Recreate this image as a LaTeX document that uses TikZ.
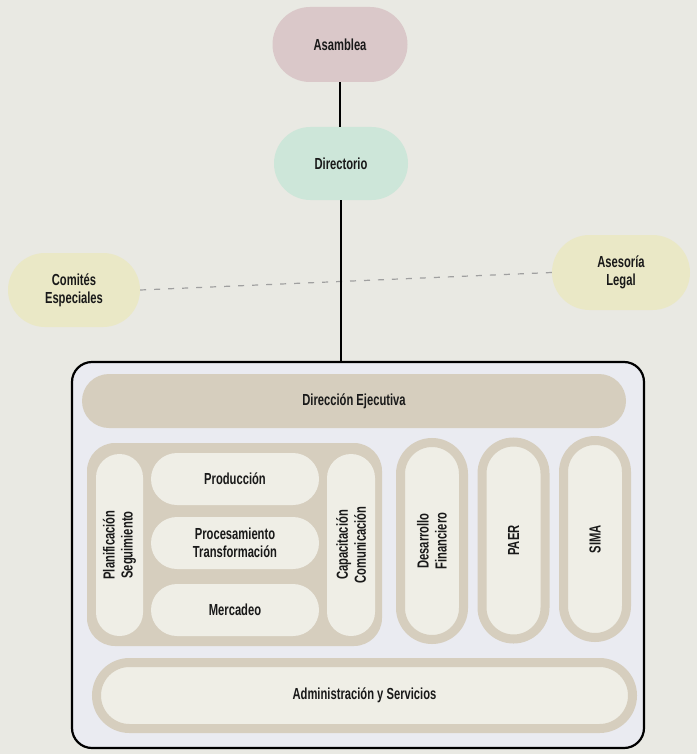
\documentclass[tikz,border=0pt]{standalone}
\usepackage{fontspec}
\setmainfont{Liberation Sans}[FakeStretch=0.7]
\definecolor{bgc}{RGB}{233,233,227}
\definecolor{asamc}{RGB}{218,200,201}
\definecolor{dirc}{RGB}{205,230,217}
\definecolor{yelc}{RGB}{234,232,198}
\definecolor{boxc}{RGB}{234,235,241}
\definecolor{tanc}{RGB}{214,206,190}
\definecolor{creamc}{RGB}{239,238,230}
\definecolor{inkc}{RGB}{25,25,25}
\definecolor{dashc}{RGB}{160,160,160}
\begin{document}
\begin{tikzpicture}[x=1pt,y=-1pt,
  every node/.style={font=\fontsize{16}{18}\selectfont\bfseries, text=inkc, align=center, inner sep=0pt},
  pill/.style={rounded corners=#1},
  ring/.style={draw=tanc, line width=9pt, fill=creamc},
  conn/.style={line width=2.8pt, black},
  dashconn/.style={dashc, line width=1.2pt, dash pattern=on 6pt off 8pt}]
\fill[bgc] (0,0) rectangle (697,754);
% top nodes
\node[pill=37.5pt, fill=asamc, minimum width=135pt, minimum height=75pt] (asam) at (340,44.5) {Asamblea};
\node[pill=36.5pt, fill=dirc, minimum width=134pt, minimum height=73pt] (dirn) at (341,163.5) {Directorio};
\node[pill=37pt, fill=yelc, minimum width=132pt, minimum height=74pt] (com) at (74,290) {Comités\\Especiales};
\node[pill=37.5pt, fill=yelc, minimum width=138pt, minimum height=75pt] (ase) at (621,272.5) {Asesoría\\Legal};
% main box
\node[draw=black, line width=2.2pt, fill=boxc, rounded corners=20pt, minimum width=572pt, minimum height=386pt] (box) at (358,555) {};
% connectors
\draw[dashconn] (com.east) -- (ase.west);
\draw[conn] (asam.south) -- (asam.south |- dirn.north);
\draw[conn] (dirn.south) -- (dirn.south |- box.north);
% inside box
\node[pill=27pt, fill=tanc, minimum width=544pt, minimum height=54pt] (ejec) at (354,401) {Dirección Ejecutiva};
\node[pill=28pt, fill=tanc, minimum width=295pt, minimum height=203pt] (grp) at (234.5,544.5) {};
\node[pill=23.5pt, fill=creamc, rotate=90, minimum width=182pt, minimum height=47pt] (plan) at (119.5,545) {Planificación\\Seguimiento};
\node[pill=26pt, fill=creamc, minimum width=168pt, minimum height=52pt] (prod) at (235,479) {Producción};
\node[pill=26pt, fill=creamc, minimum width=168pt, minimum height=52pt] (proc) at (235,543) {Procesamiento\\Transformación};
\node[pill=26pt, fill=creamc, minimum width=168pt, minimum height=52pt] (merc) at (235,610) {Mercadeo};
\node[pill=24pt, fill=creamc, rotate=90, minimum width=182pt, minimum height=48pt] (capa) at (351,545) {Capacitación\\Comunicación};
\node[ring, pill=31.5pt, rotate=90, minimum width=197pt, minimum height=63pt] (desa) at (432,541) {Desarrollo\\Financiero};
\node[ring, pill=31.5pt, rotate=90, minimum width=197pt, minimum height=63pt] (paer) at (513.5,540.5) {PAER};
\node[ring, pill=31.5pt, rotate=90, minimum width=197pt, minimum height=63pt] (sima) at (595,539) {SIMA};
\node[ring, pill=33pt, minimum width=536pt, minimum height=66pt] (admin) at (364.5,695.5) {Administración y Servicios};
\end{tikzpicture}
\end{document}
